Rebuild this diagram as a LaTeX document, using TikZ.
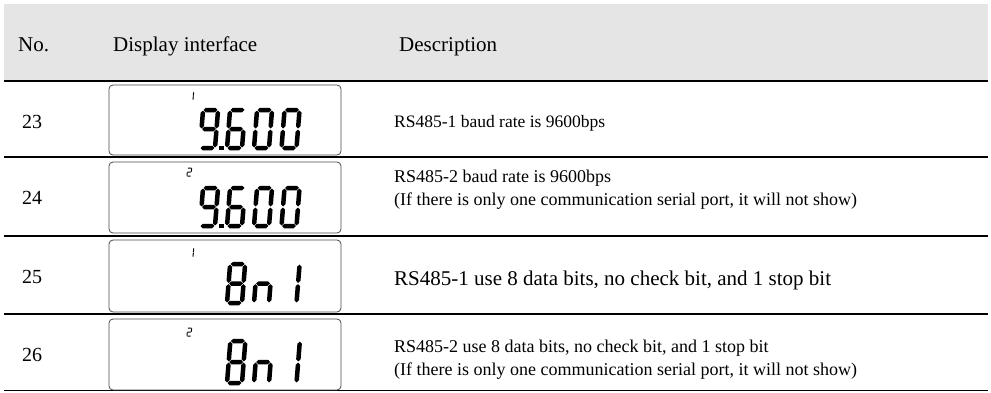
\documentclass[tikz,border=0pt]{standalone}
\usepackage{fontspec}
\setmainfont{Liberation Serif}
\definecolor{headgray}{HTML}{E5E5E5}
\definecolor{boxline}{HTML}{4A4A4A}
\definecolor{baseline}{HTML}{AAAAAA}

% seven-segment LCD glyphs (local units: pt, y upwards)
\newcommand\hseg[3]{\fill (#1+\sg,#3) -- (#1+\sg+\st/2,#3+\st/2) -- (#2-\sg-\st/2,#3+\st/2) -- (#2-\sg,#3) -- (#2-\sg-\st/2,#3-\st/2) -- (#1+\sg+\st/2,#3-\st/2) -- cycle;}
\newcommand\vseg[3]{\fill (#1,#2+\sg) -- (#1+\st/2,#2+\sg+\st/2) -- (#1+\st/2,#3-\sg-\st/2) -- (#1,#3-\sg) -- (#1-\st/2,#3-\sg-\st/2) -- (#1-\st/2,#2+\sg+\st/2) -- cycle;}
\newcommand\sega{\hseg{0}{\dw}{\dh}}
\newcommand\segb{\vseg{\dw}{\dh/2}{\dh}}
\newcommand\segc{\vseg{\dw}{0}{\dh/2}}
\newcommand\segd{\hseg{0}{\dw}{0}}
\newcommand\sege{\vseg{0}{0}{\dh/2}}
\newcommand\segf{\vseg{0}{\dh/2}{\dh}}
\newcommand\segg{\hseg{0}{\dw}{\dh/2}}
% #1,#2 bottom-left, #3 width, #4 height, #5 stroke, #6 segments
\newcommand\lcdglyph[6]{%
  \begin{scope}[shift={(#1,#2)},x=1pt,y=1pt,xslant=0.08]
    \def\dw{#3}\def\dh{#4}\def\st{#5}\pgfmathsetmacro\sg{#5*0.12}
    \foreach \s in {#6}{\csname seg\s\endcsname}
  \end{scope}}

\tikzset{
  headtxt/.style={anchor=base west,inner sep=0pt,font=\fontsize{21}{25}\selectfont},
  numtxt/.style={anchor=base west,inner sep=0pt,font=\fontsize{20}{24}\selectfont},
  desctxt/.style={anchor=base west,inner sep=0pt,font=\fontsize{18}{22.5}\selectfont,align=left},
  bigtxt/.style={anchor=base west,inner sep=0pt,font=\fontsize{21}{25}\selectfont},
  rowrule/.style={line width=2.4pt},
  lcdbox/.style={draw=boxline,line width=0.8pt,rounded corners=4pt},
}

\begin{document}
\begin{tikzpicture}[x=1pt,y=-1pt]
\useasboundingbox (0,0) rectangle (991,392);

% header band
\fill[headgray] (4,4) rectangle (988,81);
\node[headtxt] (hno) at (18,51) {No.};
\node[headtxt] (hdisp) at (113,51) {Display interface};
\node[headtxt] (hdesc) at (399,51) {Description};

% row rules
\draw[rowrule] (4,81) -- (988,81);
\draw[rowrule] (4,157) -- (988,157);
\draw[rowrule] (4,236) -- (988,236);
\draw[rowrule] (4,314) -- (988,314);
\draw[baseline,line width=1pt] (4,390.5) -- (988,390.5);

% row numbers
\node[numtxt] (n23) at (22,128) {23};
\node[numtxt] (n24) at (22,204) {24};
\node[numtxt] (n25) at (22,283) {25};
\node[numtxt] (n26) at (22,361) {26};

% LCD frames
\draw[lcdbox] (109,85) rectangle (341,155);
\draw[lcdbox] (109,162) rectangle (341,233);
\draw[lcdbox] (109,240) rectangle (341,312);
\draw[lcdbox] (109,319) rectangle (341,390);

% row 23: port 1, 9.600
\lcdglyph{190}{100}{3}{8}{1}{b,c}
\lcdglyph{200}{148}{15}{38}{4.5}{a,b,c,d,f,g}
\fill (219,145.5) rectangle (223.5,150);
\lcdglyph{227}{148}{15}{38}{4.5}{a,c,d,e,f,g}
\lcdglyph{254}{148}{15}{38}{4.5}{a,b,c,d,e,f}
\lcdglyph{281.5}{148}{15}{38}{4.5}{a,b,c,d,e,f}

% row 24: port 2, 9.600
\lcdglyph{187}{176}{4}{8}{1}{a,b,g,e,d}
\lcdglyph{200}{226}{15}{38}{4.5}{a,b,c,d,f,g}
\fill (219,223.5) rectangle (223.5,228);
\lcdglyph{227}{226}{15}{38}{4.5}{a,c,d,e,f,g}
\lcdglyph{254}{226}{15}{38}{4.5}{a,b,c,d,e,f}
\lcdglyph{281.5}{226}{15}{38}{4.5}{a,b,c,d,e,f}

% row 25: port 1, 8n1
\lcdglyph{190}{257}{3}{9}{1}{b,c}
\lcdglyph{227}{303}{15}{39}{4.5}{a,b,c,d,e,f,g}
\lcdglyph{254}{303}{15}{39}{4.5}{c,e,g}
\lcdglyph{281.5}{303}{15}{39}{4.5}{b,c}

% row 26: port 2, 8n1
\lcdglyph{187}{336}{4}{8}{1}{a,b,g,e,d}
\lcdglyph{227}{383}{15}{42}{4.5}{a,b,c,d,e,f,g}
\lcdglyph{254}{383}{15}{42}{4.5}{c,e,g}
\lcdglyph{281.5}{383}{15}{42}{4.5}{b,c}

% descriptions (base = last line)
\node[desctxt,font=\fontsize{17.5}{22}\selectfont] (d23) at (394,127) {RS485-1 baud rate is 9600bps};
\node[desctxt] (d24) at (394,205) {RS485-2 baud rate is 9600bps\\(If there is only one communication serial port, it will not show)};
\node[bigtxt] (d25) at (394,285) {RS485-1 use 8 data bits, no check bit, and 1 stop bit};
\node[desctxt] (d26) at (394,375) {RS485-2 use 8 data bits, no check bit, and 1 stop bit\\(If there is only one communication serial port, it will not show)};
\end{tikzpicture}
\end{document}
